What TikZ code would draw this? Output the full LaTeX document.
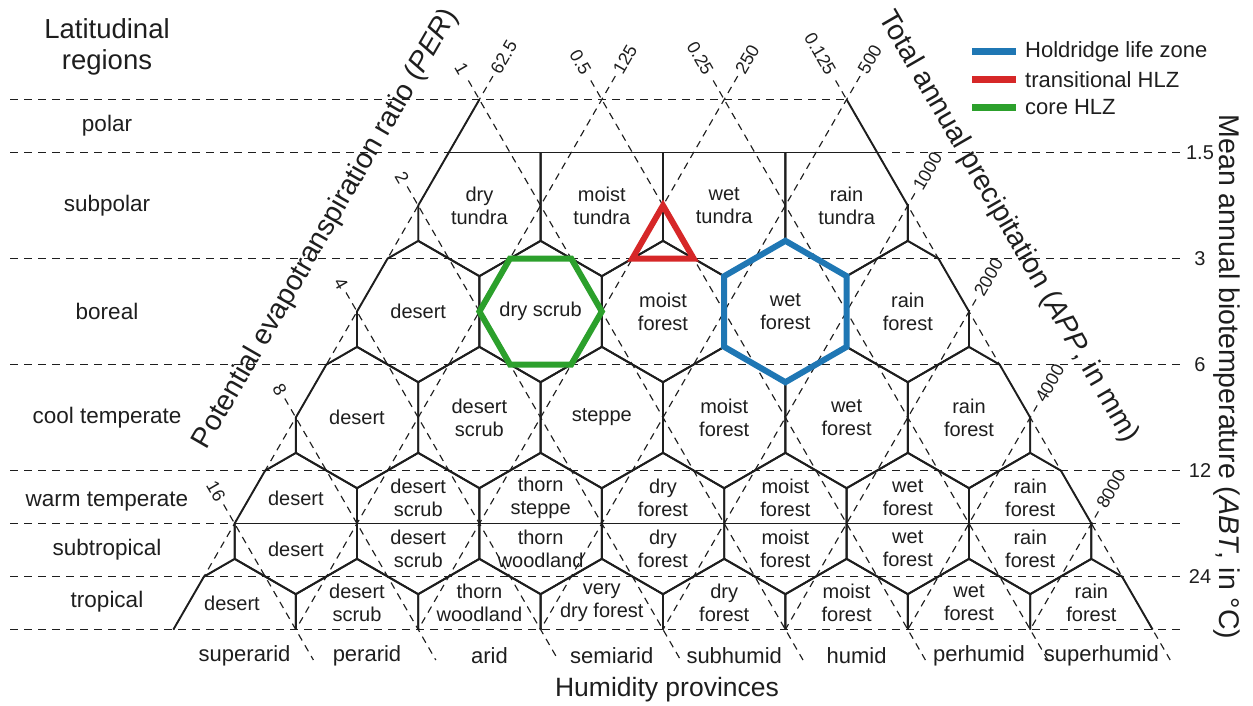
\documentclass[tikz,border=0pt]{standalone}
\usepackage{fontspec}
\setmainfont{Liberation Sans}
\usetikzlibrary{calc}
\definecolor{tabblue}{RGB}{31,119,180}
\definecolor{tabred}{RGB}{214,39,40}
\definecolor{tabgreen}{RGB}{44,160,44}
\definecolor{ink}{RGB}{30,30,30}
\newcommand\hexcell[2]{\draw[sl] (#1,{#2-70.667}) -- ++(61.2,35.333) -- ++(0,70.667) -- ++(-61.2,35.333) -- ++(-61.2,-35.333) -- ++(0,-70.667) -- cycle;}
\begin{document}
\begin{tikzpicture}[x=1pt,y=-1pt,
  dl/.style={line width=1.15pt, dash pattern=on 7pt off 5.5pt, ink},
  hl/.style={line width=1.15pt, dash pattern=on 8pt off 6pt, ink},
  sl/.style={line width=1.9pt, ink, line join=miter},
  hexlab/.style={font=\fontsize{20}{23}\selectfont, align=center, inner sep=0pt, text=ink},
  reglab/.style={font=\fontsize{22.5}{26}\selectfont, inner sep=0pt, text=ink},
  humlab/.style={font=\fontsize{22}{26}\selectfont, inner sep=0pt, text=ink},
  tick/.style={font=\fontsize{18}{20}\selectfont, inner sep=0pt, text=ink},
  rtick/.style={font=\fontsize{20}{22}\selectfont, inner sep=0pt, text=ink},
  title/.style={font=\fontsize{28.5}{32}\selectfont, inner sep=0pt, text=ink, align=center},
  leg/.style={font=\fontsize{22}{24}\selectfont, inner sep=0pt, text=ink, anchor=west},
  colhex/.style={line width=6pt, line join=miter}
]
\useasboundingbox (0,0) rectangle (1253,705);
% horizontal dashed lines
\foreach \yy in {152.5,258.5,364.5,470.5,523.5,576.5,629.5}
  {\draw[hl] (10,\yy) -- (1184,\yy);}
\draw[hl] (10,99.5) -- (846.6,99.5);
% PER lines (\)
\foreach \px/\py in {479.4/99.5,601.8/99.5,724.2/99.5,846.6/99.5,418.2/205.5,357/311.5,295.8/417.5,234.6/523.5}
  {\draw[dl] ({\px-11},{\py-19}) -- ({\px+(660-\py)/1.7320508},660);}
% APP lines (/)
\foreach \px in {479.4,601.8,724.2,846.6}
  {\draw[dl] ({\px+13.5},{99.5-23.4}) -- ({\px-530/1.7320508},629.5);}
\foreach \px/\py in {907.8/205.5,969/311.5,1030.2/417.5,1091.4/523.5}
  {\draw[dl] ({\px+7},{\py-12.1}) -- ({\px-(629.5-\py)/1.7320508},629.5);}
% tick labels
\foreach \px/\lab [count=\i] in {479.4/1,601.8/0.5,724.2/0.25,846.6/0.125}
  {\node[tick, rotate=-60, anchor=east] (pt\i) at ({\px-15},{99.5-26}) {\lab};}
\foreach \px/\lab [count=\i] in {479.4/62.5,601.8/125,724.2/250,846.6/500}
  {\node[tick, rotate=60, anchor=west] (at\i) at ({\px+15.5},{99.5-26.8}) {\lab};}
\foreach \px/\py/\lab [count=\i] in {418.2/205.5/2,357/311.5/4,295.8/417.5/8,234.6/523.5/16}
  {\node[tick, rotate=-60, anchor=east] (pl\i) at ({\px-13.5},{\py-23.4}) {\lab};}
\foreach \px/\py/\lab [count=\i] in {907.8/205.5/1000,969/311.5/2000,1030.2/417.5/4000,1091.4/523.5/8000}
  {\node[tick, rotate=60, anchor=west] (ar\i) at ({\px+9.5},{\py-16.5}) {\lab};}
% hexagon grid clipped
\begin{scope}
\clip (448.8,152.5) -- (418.2,205.5) -- (418.2,240.83) -- (387.6,258.5) -- (357,311.5) -- (357,346.83) -- (326.4,364.5) -- (295.8,417.5) -- (295.8,452.83) -- (265.2,470.5) -- (234.6,523.5) -- (234.6,558.83) -- (204,576.5) -- (173.4,629.5) -- (1152.6,629.5) -- (1122,576.5) -- (1091.4,558.83) -- (1091.4,523.5) -- (1060.8,470.5) -- (1030.2,452.83) -- (1030.2,417.5) -- (999.6,364.5) -- (969,346.83) -- (969,311.5) -- (938.4,258.5) -- (907.8,240.83) -- (907.8,205.5) -- (877.2,152.5) -- cycle;
\foreach \cx in {479.4,601.8,724.2,846.6}
  {\draw[sl] ({\cx-61.2},152.5) -- ({\cx-61.2},240.83) -- (\cx,276.17) -- ({\cx+61.2},240.83) -- ({\cx+61.2},152.5);}
\foreach \cx in {418.2,540.6,663,785.4,907.8} {\hexcell{\cx}{311.5}}
\foreach \cx in {357,479.4,601.8,724.2,846.6,969} {\hexcell{\cx}{417.5}}
\foreach \cx in {295.8,418.2,540.6,663,785.4,907.8,1030.2} {\hexcell{\cx}{523.5}}
\foreach \cx in {234.6,357,479.4,601.8,724.2,846.6,969,1091.4} {\hexcell{\cx}{629.5}}
\end{scope}
% outer boundary
\draw[sl] (479.4,99.5) -- (448.8,152.5) -- (418.2,205.5) -- (418.2,240.83) -- (387.6,258.5) -- (357,311.5) -- (357,346.83) -- (326.4,364.5) -- (295.8,417.5) -- (295.8,452.83) -- (265.2,470.5) -- (234.6,523.5) -- (234.6,558.83) -- (204,576.5) -- (173.4,629.5);
\draw[sl] (846.6,99.5) -- (877.2,152.5) -- (907.8,205.5) -- (907.8,240.83) -- (938.4,258.5) -- (969,311.5) -- (969,346.83) -- (999.6,364.5) -- (1030.2,417.5) -- (1030.2,452.83) -- (1060.8,470.5) -- (1091.4,523.5) -- (1091.4,558.83) -- (1122,576.5) -- (1152.6,629.5);
\draw[sl] (448.8,152.5) -- (877.2,152.5);
\draw[sl] (234.6,523.5) -- (1091.4,523.5);
% highlighted zones
\draw[colhex, tabblue] (785.4,240.83) -- ++(61.2,35.333) -- ++(0,70.667) -- ++(-61.2,35.333) -- ++(-61.2,-35.333) -- ++(0,-70.667) -- cycle;
\draw[colhex, tabgreen] (479.4,311.5) -- (510,258.5) -- (571.2,258.5) -- (601.8,311.5) -- (571.2,364.5) -- (510,364.5) -- cycle;
\draw[colhex, tabred] (663,205.5) -- (693.6,258.5) -- (632.4,258.5) -- cycle;
% hexagon labels
\foreach \x/\y/\t [count=\i] in {
  479.4/206/{dry\\tundra},601.8/206/{moist\\tundra},724.2/206/{wet\\tundra},846.6/206/{rain\\tundra},
  418.2/311.5/{desert},540.6/311.5/{dry scrub},663/311.5/{moist\\forest},785.4/311.5/{wet\\forest},907.8/311.5/{rain\\forest},
  357/417.5/{desert},479.4/417.5/{desert\\scrub},601.8/417.5/{steppe},724.2/417.5/{moist\\forest},846.6/417.5/{wet\\forest},969/417.5/{rain\\forest},
  295.8/498/{desert},418.2/498/{desert\\scrub},540.6/498/{thorn\\steppe},663/498/{dry\\forest},785.4/498/{moist\\forest},907.8/498/{wet\\forest},1030.2/498/{rain\\forest},
  295.8/549/{desert},418.2/549/{desert\\scrub},540.6/549/{thorn\\woodland},663/549/{dry\\forest},785.4/549/{moist\\forest},907.8/549/{wet\\forest},1030.2/549/{rain\\forest},
  232/603/{desert},357/603/{desert\\scrub},479.4/603/{thorn\\woodland},601.8/603/{very\\dry forest},724.2/603/{dry\\forest},846.6/603/{moist\\forest},969/603/{wet\\forest},1091.4/603/{rain\\forest}}
  {\node[hexlab] (z\i) at (\x,\y) {\t};}
% latitudinal regions
\node[title, font=\fontsize{27.5}{31}\selectfont] (lat) at (107,46.5) {Latitudinal\\regions};
\foreach \y/\t [count=\i] in {126/polar,205.5/subpolar,311.5/boreal,417.5/cool temperate,502/warm temperate,550/subtropical,602/tropical}
  {\node[reglab] (r\i) at (107,\y) {\t};}
% humidity provinces
\foreach \x/\t [count=\i] in {244.6/superarid,367/perarid,489.4/arid,611.8/semiarid,734.2/subhumid,856.6/humid,979/perhumid,1101.4/superhumid}
  {\node[humlab] (h\i) at (\x,656) {\t};}
\node[title, font=\fontsize{26.5}{30}\selectfont] (hum) at (667,690) {Humidity provinces};
% ABT ticks
\foreach \y/\t [count=\i] in {152.5/1.5,258.5/3,364.5/6,470.5/12,576.5/24}
  {\node[rtick] (b\i) at (1200,\y) {\t};}
% axis titles
\node[title, rotate=60] (per) at (326,229) {Potential evapotranspiration ratio (\textit{PER})};
\node[title, rotate=-60] (app) at (1008,227) {Total annual precipitation (\textit{APP}, in mm)};
\node[title, rotate=-90] (abt) at (1227,377) {Mean annual biotemperature (\textit{ABT}, in °C)};
% legend
\draw[line width=7pt, tabblue] (972,51.5) -- (1016,51.5);
\node[leg] (l1) at (1025,51.5) {Holdridge life zone};
\draw[line width=7pt, tabred] (972,79.5) -- (1016,79.5);
\node[leg] (l2) at (1025,79.5) {transitional HLZ};
\draw[line width=7pt, tabgreen] (972,107.5) -- (1016,107.5);
\node[leg] (l3) at (1025,107.5) {core HLZ};
\end{tikzpicture}
\end{document}
